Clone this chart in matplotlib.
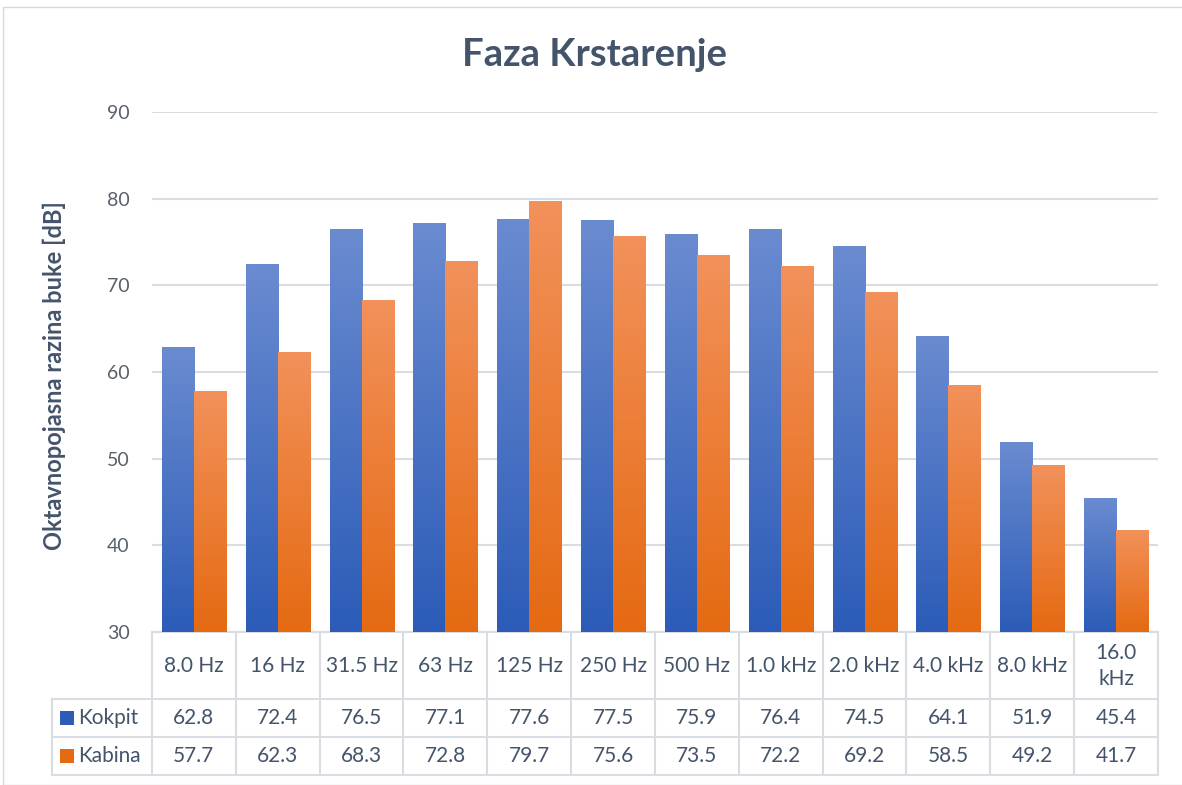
import numpy as np
import matplotlib.pyplot as plt
from matplotlib.patches import Rectangle
from matplotlib.colors import to_rgb

categories = ["8.0 Hz", "16 Hz", "31.5 Hz", "63 Hz", "125 Hz", "250 Hz", "500 Hz",
              "1.0 kHz", "2.0 kHz", "4.0 kHz", "8.0 kHz", "16.0\nkHz"]
kokpit = [62.8, 72.4, 76.5, 77.1, 77.6, 77.5, 75.9, 76.4, 74.5, 64.1, 51.9, 45.4]
kabina = [57.7, 62.3, 68.3, 72.8, 79.7, 75.6, 73.5, 72.2, 69.2, 58.5, 49.2, 41.7]
series_names = ["Kokpit", "Kabina"]

W, H = 1182, 785
plt.rcParams['font.family'] = ['Lato', 'DejaVu Sans']
text_col = '#44546a'
grid_col = '#d9dde3'
blue = ('#6a8bd0', '#2c5cb8')
orange = ('#f2915a', '#e56a12')

fig = plt.figure(figsize=(W / 100, H / 100), dpi=100)
fig.patches.append(Rectangle((3 / W, 0), 1.2, 1 - 7 / H, transform=fig.transFigure,
                             fill=False, edgecolor='#d9d9d9', lw=1))

ax = fig.add_axes([152 / W, 1 - 632 / H, (1158 - 152) / W, (632 - 112) / H])
ax.set_xlim(-0.5, 11.5)
ax.set_ylim(30, 90)


def grad(top, bot, n=128):
    t = np.linspace(0, 1, n)[:, None]
    c0, c1 = np.array(to_rgb(bot)), np.array(to_rgb(top))
    return (c0 + (c1 - c0) * t)[:, None, :]


bw = 32 / 83.83
for vals, cols, off in [(kokpit, blue, -bw / 2), (kabina, orange, bw / 2)]:
    img = grad(*cols)
    for i, v in enumerate(vals):
        x = i + off
        ax.imshow(img, extent=[x - bw / 2, x + bw / 2, 30, v], origin='lower',
                  aspect='auto', zorder=3, interpolation='bilinear')

ax.set_yticks(range(30, 91, 10))
ax.yaxis.grid(True, color=grid_col, lw=1.5, zorder=0)
ax.set_axisbelow(True)
ax.set_xticks([])
for s in ax.spines.values():
    s.set_visible(False)
ax.tick_params(axis='y', length=0, pad=16, labelsize=14, labelcolor='#58606c')

fig.text(54 / W, 1 - 376 / H, "Oktavnopojasna razina buke [dB]", rotation=90,
         ha='center', va='center', fontsize=17, fontweight='bold', color=text_col)
fig.text(595 / W, 1 - 55 / H, "Faza Krstarenje", ha='center', va='center',
         fontsize=27.5, fontweight='bold', color=text_col)

# data table
tr = ax.get_xaxis_transform()
def fy(py):
    return (632 - py) / 520

left = -0.5 - 100 / 83.83
lk = dict(color=grid_col, lw=1.5, transform=tr, clip_on=False, zorder=1)
ax.plot([-0.5, 11.5], [fy(632)] * 2, **lk)
for py in (699, 737, 775):
    ax.plot([left, 11.5], [fy(py)] * 2, **lk)
for i in range(13):
    ax.plot([i - 0.5] * 2, [fy(632), fy(775)], **lk)
ax.plot([left] * 2, [fy(699), fy(775)], **lk)

tk = dict(transform=tr, ha='center', va='center', fontsize=15, color=text_col, clip_on=False)
for i, c in enumerate(categories):
    ax.text(i, fy(666), c, linespacing=1.35, **tk)
    ax.text(i, fy(718), f"{kokpit[i]:.1f}", **tk)
    ax.text(i, fy(756), f"{kabina[i]:.1f}", **tk)

for name, cols, py in [(series_names[0], blue, 718), (series_names[1], orange, 756)]:
    x0 = left + 8 / 83.83
    ax.add_patch(Rectangle((x0, fy(py + 7)), 14 / 83.83, 14 / 520, transform=tr,
                           facecolor=cols[1], clip_on=False, zorder=2))
    ax.text(left + 26 / 83.83, fy(py), name, transform=tr, ha='left', va='center',
            fontsize=15, color=text_col, clip_on=False)

ax.set_xlim(-0.5, 11.5)
ax.set_ylim(30, 90)
fig.savefig("out.png", dpi=100)
